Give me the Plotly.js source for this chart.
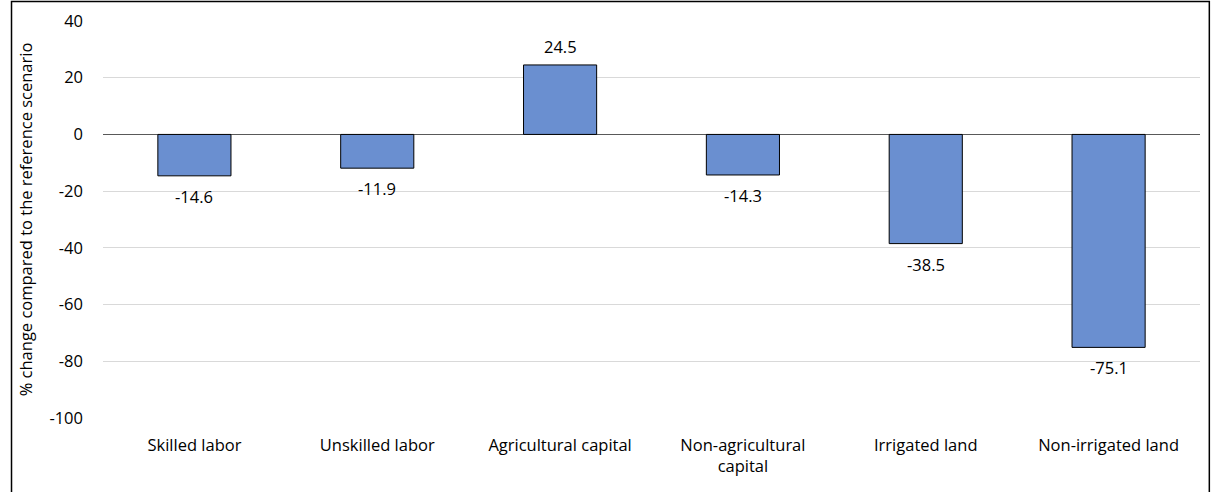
<!DOCTYPE html>
<html>
<head>
<meta charset="utf-8">
<script src="https://cdn.plot.ly/plotly-3.0.1.min.js"></script>
<style>
  html, body { margin: 0; padding: 0; background: #fff; }
  #chart { width: 1212px; height: 492px; }
</style>
</head>
<body>
<div id="chart"></div>
<script>
// Factor categories and percentage changes
const categories = [
  "Skilled labor",
  "Unskilled labor",
  "Agricultural capital",
  "Non-agricultural<br>capital",
  "Irrigated land",
  "Non-irrigated land"
];
const changes = [-14.6, -11.9, 24.5, -14.3, -38.5, -75.1];
const yTicks = [-100, -80, -60, -40, -20, 0, 20, 40];

const FONT = "'Open Sans', sans-serif";
const TEXT = "#000000";
const SIZE = 16.5;

const trace = {
  type: "bar",
  x: categories,
  y: changes,
  marker: { color: "#6a8fd0", line: { color: "#000000", width: 1 } },
  hoverinfo: "x+y"
};

// Value labels sit outside the end of each bar
const annotations = changes.map((v, i) => ({
  x: categories[i],
  y: v,
  xref: "x",
  yref: "y",
  text: v.toFixed(1),
  showarrow: false,
  yanchor: v < 0 ? "top" : "bottom",
  yshift: v < 0 ? -7 : 5,
  font: { family: FONT, size: SIZE, color: TEXT }
}));

const layout = {
  width: 1212,
  height: 492,
  margin: { l: 103, r: 12, t: 21, b: 74 },
  paper_bgcolor: "#ffffff",
  plot_bgcolor: "#ffffff",
  bargap: 0.6,
  showlegend: false,
  xaxis: {
    type: "category",
    showgrid: false,
    zeroline: false,
    showline: false,
    ticks: "",
    ticklabelstandoff: 15,
    tickfont: { family: FONT, size: SIZE, color: TEXT }
  },
  yaxis: {
    range: [-100, 40],
    tickvals: yTicks,
    ticktext: yTicks.map(String),
    showgrid: true,
    gridcolor: "#d9d9d9",
    gridwidth: 1,
    zeroline: true,
    zerolinecolor: "#595959",
    zerolinewidth: 1.5,
    showline: false,
    ticks: "",
    ticklabelstandoff: 19,
    tickfont: { family: FONT, size: SIZE, color: TEXT },
    title: {
      text: "% change compared to the reference scenario",
      font: { family: FONT, size: SIZE, color: TEXT },
      standoff: 12
    }
  },
  annotations: annotations,
  shapes: [{
    type: "rect",
    xref: "paper", yref: "paper",
    x0: -0.0834, x1: 1.0085,
    y0: -0.3, y1: 1.049,
    line: { color: "#000000", width: 1.5 },
    fillcolor: "rgba(0,0,0,0)",
    layer: "above"
  }]
};

Plotly.newPlot("chart", [trace], layout, { displayModeBar: false, staticPlot: true });
</script>
</body>
</html>
